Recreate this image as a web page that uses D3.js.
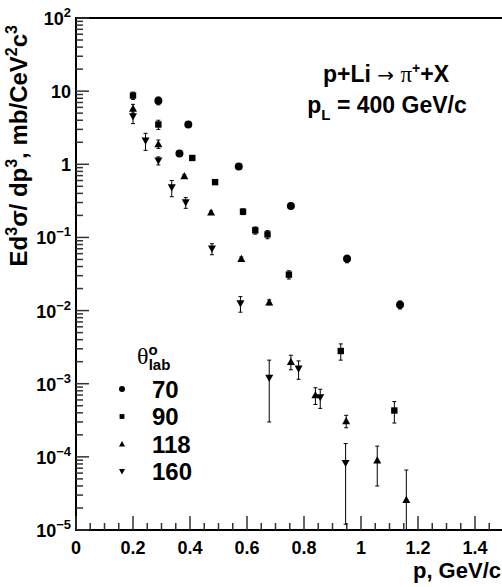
<!DOCTYPE html>
<html>
<head>
<meta charset="utf-8">
<script src="https://cdn.jsdelivr.net/npm/d3@7"></script>
<style>
  body { margin: 0; background: #fff; }
</style>
</head>
<body>
<div id="chart"></div>
<script>

// Data: p (GeV/c), invariant cross section, error
var p70 = [0.289, 0.363, 0.394, 0.571, 0.754, 0.951, 1.137];
var v70 = [7.4, 1.40, 3.5, 0.93, 0.27, 0.051, 0.012];
var e70 = [0.9, 0.1, 0.15, 0.05, 0.015, 0.006, 0.0015];

var p90 = [0.2, 0.289, 0.408, 0.488, 0.586, 0.629, 0.672, 0.747, 0.929, 1.117];
var v90 = [8.7, 3.5, 1.22, 0.57, 0.225, 0.125, 0.11, 0.031, 0.0028, 0.00043];
var e90 = [1.0, 0.5, 0.06, 0.03, 0.02, 0.014, 0.014, 0.004, 0.0007, 0.00014];

var p118 = [0.2, 0.289, 0.38, 0.474, 0.580, 0.678, 0.754, 0.840, 0.948, 1.057, 1.159];
var v118 = [5.8, 1.9, 0.69, 0.22, 0.051, 0.013, 0.002, 0.0007, 0.00031, 0.00009, 0.000026];
var e118 = [0.8, 0.25, 0.03, 0.01, 0.003, 0.001, 0.00045, 0.00018, 0.00006, 0.00005, 0.00004];

var p160 = [0.2, 0.244, 0.289, 0.336, 0.385, 0.477, 0.577, 0.678, 0.781, 0.857, 0.946];
var v160 = [4.5, 2.1, 1.12, 0.48, 0.30, 0.07, 0.0125, 0.0012, 0.0016, 0.00065, 0.000082];
var e160 = [0.9, 0.55, 0.14, 0.12, 0.05, 0.012, 0.003, 0.0009, 0.00045, 0.00019, 0.00007];

var angles = ["70", "90", "118", "160"];
var xTicks = [0, 0.2, 0.4, 0.6, 0.8, 1, 1.2, 1.4];
var yExps = [2, 1, 0, -1, -2, -3, -4, -5];

var drawChart = function(){

    // sizes
    const width = 502, height = 587;
    const left = 76, right = 503.5, top = 18, bottom = 530;
    var font = "'Liberation Sans', Arial, sans-serif";
    var serif = "'Liberation Serif', 'Times New Roman', serif";

    var svg = d3.select("#chart").append("svg")
        .attr("width", width)
        .attr("height", height)
        .style("font-family", font)
        .style("font-weight", "bold");

    var x = d3.scaleLinear().domain([0, 1.5]).range([left, right]);
    var y = d3.scaleLog().domain([1e-5, 1e2]).range([bottom, top]);

    // frame lines (left, bottom, top)
    svg.append("path")
        .attr("d", "M" + x(1.5) + "," + y(1e2) + "H" + x(0) + "V" + y(1e-5) + "H" + x(1.5))
        .attr("fill", "none")
        .attr("stroke", "#000")
        .attr("stroke-width", 2);

    // x ticks every 0.05, long every 0.2
    var xt = d3.range(0, 1.5, 0.05);
    svg.append("g").selectAll("line")
        .data(xt)
        .join("line")
        .attr("x1", d => x(d)).attr("x2", d => x(d))
        .attr("y1", y(1e-5))
        .attr("y2", (d, i) => y(1e-5) - (i % 4 == 0 ? 14 : 7))
        .attr("stroke", "#333")
        .attr("stroke-width", 1.5);

    svg.append("g").selectAll("text")
        .data(xTicks)
        .join("text")
        .attr("x", d => x(d))
        .attr("y", 554)
        .attr("text-anchor", "middle")
        .attr("font-size", 18)
        .text(d => d);

    // y ticks: decades long, 2..9 short
    var minor = [];
    for (var k = -5; k < 2; k++) {
        for (var m = 2; m < 10; m++) minor.push(m * Math.pow(10, k));
    }
    svg.append("g").selectAll("line")
        .data(minor)
        .join("line")
        .attr("x1", x(0)).attr("x2", x(0) + 7)
        .attr("y1", d => y(d)).attr("y2", d => y(d))
        .attr("stroke", "#333")
        .attr("stroke-width", 1.5);
    svg.append("g").selectAll("line")
        .data(yExps)
        .join("line")
        .attr("x1", x(0)).attr("x2", x(0) + 13)
        .attr("y1", d => y(Math.pow(10, d))).attr("y2", d => y(Math.pow(10, d)))
        .attr("stroke", "#333")
        .attr("stroke-width", 1.5);

    var yl = svg.append("g").selectAll("text")
        .data(yExps)
        .join("text")
        .attr("x", 71)
        .attr("y", d => y(Math.pow(10, d)) + 7)
        .attr("text-anchor", "end")
        .attr("font-size", 18);
    yl.each(function(d) {
        var t = d3.select(this);
        if (d == 0) { t.text("1"); return; }
        if (d == 1) { t.text("10"); return; }
        t.append("tspan").text("10");
        t.append("tspan").attr("dy", -8).attr("font-size", 13)
            .text(d < 0 ? "\u2212" + (-d) : d);
    });

    // axis titles
    svg.append("text")
        .attr("x", 501)
        .attr("y", 578)
        .attr("text-anchor", "end")
        .attr("font-size", 22)
        .text("p, GeV/c");

    var yt = svg.append("text")
        .attr("transform", "translate(27,25) rotate(-90)")
        .attr("text-anchor", "end")
        .attr("font-size", 24);
    var parts = [["Ed", 0], ["3", 1], ["\u03c3/ dp", 0], ["3", 1], [", mb/CeV", 0], ["2", 1], ["c", 0], ["3", 1]];
    var up = false;
    parts.forEach(function(s) {
        var ts = yt.append("tspan").text(s[0]);
        if (s[1] && !up) { ts.attr("dy", -10).attr("font-size", 16); up = true; }
        else if (s[1]) { ts.attr("font-size", 16); }
        else if (up) { ts.attr("dy", 10); up = false; }
    });

    // reaction label
    var t1 = svg.append("text")
        .attr("x", 386).attr("y", 82)
        .attr("text-anchor", "middle")
        .attr("font-size", 23);
    t1.append("tspan").text("p+Li ");
    t1.append("tspan").attr("font-weight", "normal").attr("font-family", "'DejaVu Sans', sans-serif").attr("font-size", 20).text("\u2192 ");
    t1.append("tspan").attr("font-weight", "normal").attr("font-family", serif).text("\u03c0");
    t1.append("tspan").attr("dy", -9).attr("font-size", 14).text("+");
    t1.append("tspan").attr("dy", 9).text("+X");

    var t2 = svg.append("text")
        .attr("x", 387).attr("y", 113)
        .attr("text-anchor", "middle")
        .attr("font-size", 23);
    t2.append("tspan").text("p");
    t2.append("tspan").attr("dy", 7).attr("font-size", 15).text("L");
    t2.append("tspan").attr("dy", -7).text(" = 400 GeV/c");

    // markers
    function marker(g, kind, s) {
        if (kind == 0) return g.append("circle").attr("r", s * 0.5);
        if (kind == 1) return g.append("rect").attr("x", -s * 0.4).attr("y", -s * 0.4).attr("width", s * 0.8).attr("height", s * 0.8);
        var h = s * 0.9, w = s * 0.5;
        if (kind == 2) return g.append("path").attr("d", "M0," + (-h * 0.55) + "L" + w + "," + (h * 0.45) + "L" + (-w) + "," + (h * 0.45) + "Z");
        return g.append("path").attr("d", "M0," + (h * 0.55) + "L" + w + "," + (-h * 0.45) + "L" + (-w) + "," + (-h * 0.45) + "Z");
    }

    var series = [[p70, v70, e70], [p90, v90, e90], [p118, v118, e118], [p160, v160, e160]];
    var plot = svg.append("g");

    series.forEach(function(s, k) {
        var pts = s[0].map((p, i) => ({p: p, v: s[1][i], e: s[2][i]}));
        var g = plot.append("g").selectAll("g")
            .data(pts)
            .join("g");
        // error bars then marker
        g.each(function(d) {
            var gg = d3.select(this);
            var yHi = y(d.v + d.e);
            var yLo = d.v - d.e > 1e-5 ? y(d.v - d.e) : bottom;
            var cx = x(d.p);
            gg.append("line").attr("x1", cx).attr("x2", cx).attr("y1", yHi).attr("y2", yLo)
                .attr("stroke", "#000").attr("stroke-width", 1);
            gg.append("line").attr("x1", cx - 2).attr("x2", cx + 2).attr("y1", yHi).attr("y2", yHi)
                .attr("stroke", "#000").attr("stroke-width", 1);
            if (yLo < bottom)
                gg.append("line").attr("x1", cx - 2).attr("x2", cx + 2).attr("y1", yLo).attr("y2", yLo)
                    .attr("stroke", "#000").attr("stroke-width", 1);
            var mk = marker(gg, k, 8);
            mk.attr("transform", "translate(" + cx + "," + y(d.v) + ")").attr("fill", "#000");
        });
    });

    // legend
    var lg = svg.append("g");
    var th = lg.append("text")
        .attr("x", 137).attr("y", 364)
        .attr("font-size", 24)
        .attr("font-weight", "normal")
        .attr("font-family", serif);
    th.append("tspan").text("\u03b8");
    th.append("tspan").attr("dy", -9).attr("font-size", 15).attr("font-weight", "bold").attr("font-family", font).text("o");
    th.append("tspan").attr("dx", -9).attr("dy", 15).attr("font-size", 15).attr("font-weight", "bold").attr("font-family", font).text("lab");

    angles.forEach(function(a, k) {
        var yy = 389 + k * 27.5;
        var mk = marker(lg, k, 6);
        mk.attr("transform", "translate(122," + yy + ")").attr("fill", "#000");
        lg.append("text")
            .attr("x", 152).attr("y", yy + 8.5)
            .attr("font-size", 24)
            .text(a);
    });
}

window.addEventListener("load", drawChart)
</script>
</body>
</html>
